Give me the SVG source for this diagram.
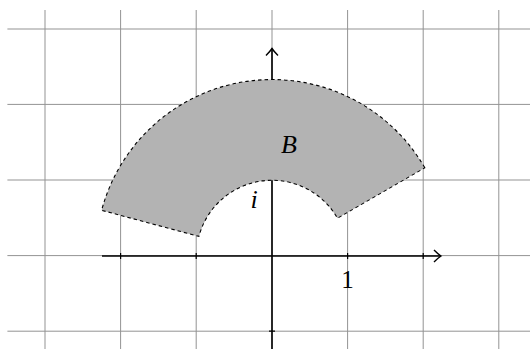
<svg xmlns="http://www.w3.org/2000/svg" width="530" height="349" viewBox="0 0 530 349">
<style>
.grid{stroke:#939393;stroke-width:1;fill:none}
.axis{stroke:#000;stroke-width:1.6;fill:none}
.tick{stroke:#000;stroke-width:1.2}
text{font-family:'Liberation Serif','DejaVu Serif',serif;font-size:25px;fill:#000}
.it{font-style:italic;font-size:26px}
</style>
<defs>
<marker id="arr" viewBox="0 0 10 14" refX="8" refY="7" markerWidth="10" markerHeight="14" markerUnits="userSpaceOnUse" orient="auto">
<path d="M1,1 Q5,5 8,7 Q5,9 1,13" fill="none" stroke="#000" stroke-width="1.4"/>
</marker>
</defs>
<rect width="530" height="349" fill="#fff"/>
<g id="grid" class="grid">
<path d="M7.4,29 H530 M7.4,104.4 H530 M7.4,180 H530 M7.4,255.6 H530 M7.4,331.2 H530"/>
<path d="M45,10 V349 M120.6,10 V349 M196.2,10 V349 M272,10 V349 M347.6,10 V349 M423.2,10 V349 M498.8,10 V349"/>
</g>
<g id="connectors">
<line class="axis" x1="102" y1="256" x2="441" y2="256" marker-end="url(#arr)"/>
<line class="axis" x1="272" y1="351" x2="272" y2="48.5" marker-end="url(#arr)"/>
<path class="tick" d="M120.6,253 V259 M196.2,253 V259 M347.6,253 V259 M423.2,253 V259 M269,331.2 H275"/>
</g>
<g id="B">
<path d="M424.8,167.8 A176.4,176.4 0 0 0 101.6,210.3 L198.9,236.4 A75.6,75.6 0 0 1 337.5,218.2 Z" fill="#b3b3b3" stroke="#000" stroke-width="1.1" stroke-dasharray="3.5,3"/>
<text class="it" x="289" y="152.5" text-anchor="middle" font-family="Liberation Serif, serif">B</text>
</g>
<g id="i-label">
<text class="it" x="254" y="207.5" text-anchor="middle" font-family="Liberation Serif, serif">i</text>
</g>
<g id="one-label">
<text x="347.5" y="288" text-anchor="middle" font-family="Liberation Serif, serif">1</text>
</g>
</svg>
